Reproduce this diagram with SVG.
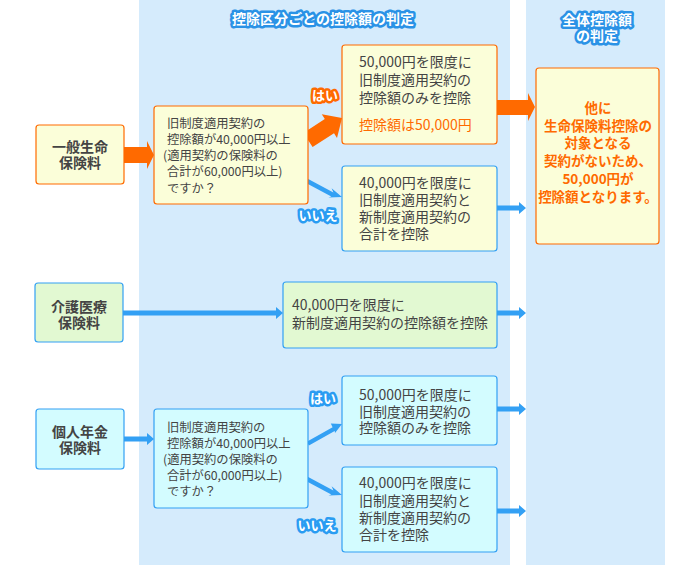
<svg xmlns="http://www.w3.org/2000/svg" width="700" height="565" viewBox="0 0 700 565">
<style>
text{font-family:"Noto Sans CJK JP","Noto Sans",sans-serif;fill:#444}
.band{fill:#d5ebfc}
.hd{font-size:14px;font-weight:bold;fill:#fff;stroke:#2a92e6;stroke-width:5;stroke-linejoin:round;paint-order:stroke}
.lbY{font-size:13px;font-weight:bold;fill:#fff;stroke:#ff6a00;stroke-width:5;stroke-linejoin:round;paint-order:stroke}
.lbN{font-size:13px;font-weight:bold;fill:#fff;stroke:#2a9cf2;stroke-width:5;stroke-linejoin:round;paint-order:stroke}
.yb{fill:#fbfed9;stroke:#ff6a00;stroke-width:1.2}
.ybb{fill:#fbfed9;stroke:#33a0f4;stroke-width:1.2}
.gb{fill:#e2f9d2;stroke:#33a0f4;stroke-width:1.2}
.cb{fill:#d3fcff;stroke:#33a0f4;stroke-width:1.2}
.nt{font-size:14px;font-weight:bold;text-anchor:middle}
.dt{font-size:12.3px}
.rt{font-size:14px}
.ot{fill:#ff6a00}
.ct{font-size:13.5px;font-weight:bold;fill:#ff6a00;text-anchor:middle}
.oa{fill:#ff6a00}
.ba{fill:#33a0f4}
</style>
<rect class="band" x="139" y="0" width="371" height="565"/>
<rect class="band" x="526" y="0" width="139" height="565"/>
<text class="hd" x="323" y="24" text-anchor="middle">控除区分ごとの控除額の判定</text>
<text class="hd" text-anchor="middle"><tspan x="597" y="25">全体控除額</tspan><tspan x="597" y="41">の判定</tspan></text>

<g id="connectors">
<polygon class="oa" points="124,147 147,147 147,141 154,155 147,169 147,163 124,163"/>
<polygon class="oa" points="303.4,132.9 324.8,119 321.8,114.3 342,118 337,137.9 334,133.2 312.6,147.1"/>
<polygon class="ba" points="306.8,178.2 333.4,192.5 331.6,188.2 342,197 328.5,197.6 331.3,196.5 304.6,182.2"/>
<polygon class="oa" points="497,100 528,100 528,93 535,107 528,121 528,115 497,115"/>
<polygon class="ba" points="497,205.5 519,205.5 519,202 526,208 519,214 519,210.5 497,210.5"/>
<polygon class="ba" points="123,310.5 276,310.5 276,307 283,313 276,319 276,315.5 123,315.5"/>
<polygon class="ba" points="497,310.5 519,310.5 519,307 526,313 519,319 519,315.5 497,315.5"/>
<polygon class="ba" points="124,436.5 147,436.5 147,433 154,439 147,445 147,441.5 124,441.5"/>
<polygon class="ba" points="306.8,441.8 332.6,427.2 330.8,423.4 342,424 335,433 334.7,430.9 308.9,445.5"/>
<polygon class="ba" points="306.8,476.2 333.4,490.5 331.6,486.2 342,495 328.5,495.6 331.3,494.5 304.6,480.2"/>
<polygon class="ba" points="497,406.5 519,406.5 519,403 526,409 519,415 519,411.5 497,411.5"/>
<polygon class="ba" points="497,508.5 519,508.5 519,505 526,511 519,517 519,513.5 497,513.5"/>
</g>

<text class="lbY" x="325" y="100" text-anchor="middle">はい</text>
<text class="lbN" x="318" y="220" text-anchor="middle">いいえ</text>
<text class="lbN" x="323" y="403" text-anchor="middle">はい</text>
<text class="lbN" x="317" y="530" text-anchor="middle">いいえ</text>

<g id="node-ippan">
<rect class="yb" x="36" y="125" width="88" height="59" rx="3"/>
<text class="nt"><tspan x="80" y="152">一般生命</tspan><tspan x="80" y="168">保険料</tspan></text>
</g>
<g id="node-q1">
<rect class="yb" x="154" y="106" width="154" height="98" rx="3"/>
<text class="dt"><tspan x="167" y="127.5">旧制度適用契約の</tspan><tspan x="167" y="143.8">控除額が40,000円以上</tspan><tspan x="163" y="160.1">(適用契約の保険料の</tspan><tspan x="167" y="176.4">合計が60,000円以上)</tspan><tspan x="167" y="192.7">ですか？</tspan></text>
</g>
<g id="node-r1">
<rect class="yb" x="342" y="45" width="155" height="99" rx="3"/>
<text class="rt"><tspan x="359" y="67">50,000円を限度に</tspan><tspan x="359" y="85">旧制度適用契約の</tspan><tspan x="359" y="103">控除額のみを控除</tspan><tspan class="ot" x="359" y="130">控除額は50,000円</tspan></text>
</g>
<g id="node-r2">
<rect class="ybb" x="342" y="166" width="155" height="85" rx="3"/>
<text class="rt"><tspan x="359" y="188">40,000円を限度に</tspan><tspan x="359" y="205">旧制度適用契約と</tspan><tspan x="359" y="222">新制度適用契約の</tspan><tspan x="359" y="239">合計を控除</tspan></text>
</g>
<g id="node-total">
<rect class="yb" x="536" y="68" width="123" height="176" rx="3"/>
<text class="ct"><tspan x="598" y="113">他に</tspan><tspan x="598" y="131">生命保険料控除の</tspan><tspan x="598" y="148">対象となる</tspan><tspan x="598" y="166">契約がないため、</tspan><tspan x="598" y="184">50,000円が</tspan><tspan x="598" y="202">控除額となります。</tspan></text>
</g>
<g id="node-kaigo">
<rect class="gb" x="35" y="283" width="88" height="59" rx="3"/>
<text class="nt"><tspan x="79" y="312">介護医療</tspan><tspan x="79" y="328">保険料</tspan></text>
</g>
<g id="node-r5">
<rect class="gb" x="283" y="282" width="214" height="66" rx="3"/>
<text class="rt"><tspan x="292" y="310">40,000円を限度に</tspan><tspan x="292" y="328">新制度適用契約の控除額を控除</tspan></text>
</g>
<g id="node-kojin">
<rect class="cb" x="36" y="409" width="88" height="60" rx="3"/>
<text class="nt"><tspan x="80" y="437">個人年金</tspan><tspan x="80" y="453">保険料</tspan></text>
</g>
<g id="node-q2">
<rect class="cb" x="154" y="409" width="154" height="99" rx="3"/>
<text class="dt"><tspan x="167" y="431.5">旧制度適用契約の</tspan><tspan x="167" y="447.7">控除額が40,000円以上</tspan><tspan x="163" y="463.9">(適用契約の保険料の</tspan><tspan x="167" y="480.1">合計が60,000円以上)</tspan><tspan x="167" y="496.3">ですか？</tspan></text>
</g>
<g id="node-r3">
<rect class="cb" x="342" y="376" width="155" height="69" rx="3"/>
<text class="rt"><tspan x="359" y="400">50,000円を限度に</tspan><tspan x="359" y="417">旧制度適用契約の</tspan><tspan x="359" y="433">控除額のみを控除</tspan></text>
</g>
<g id="node-r4">
<rect class="cb" x="342" y="467" width="155" height="85" rx="3"/>
<text class="rt"><tspan x="359" y="488">40,000円を限度に</tspan><tspan x="359" y="506">旧制度適用契約と</tspan><tspan x="359" y="523">新制度適用契約の</tspan><tspan x="359" y="540">合計を控除</tspan></text>
</g>
</svg>
